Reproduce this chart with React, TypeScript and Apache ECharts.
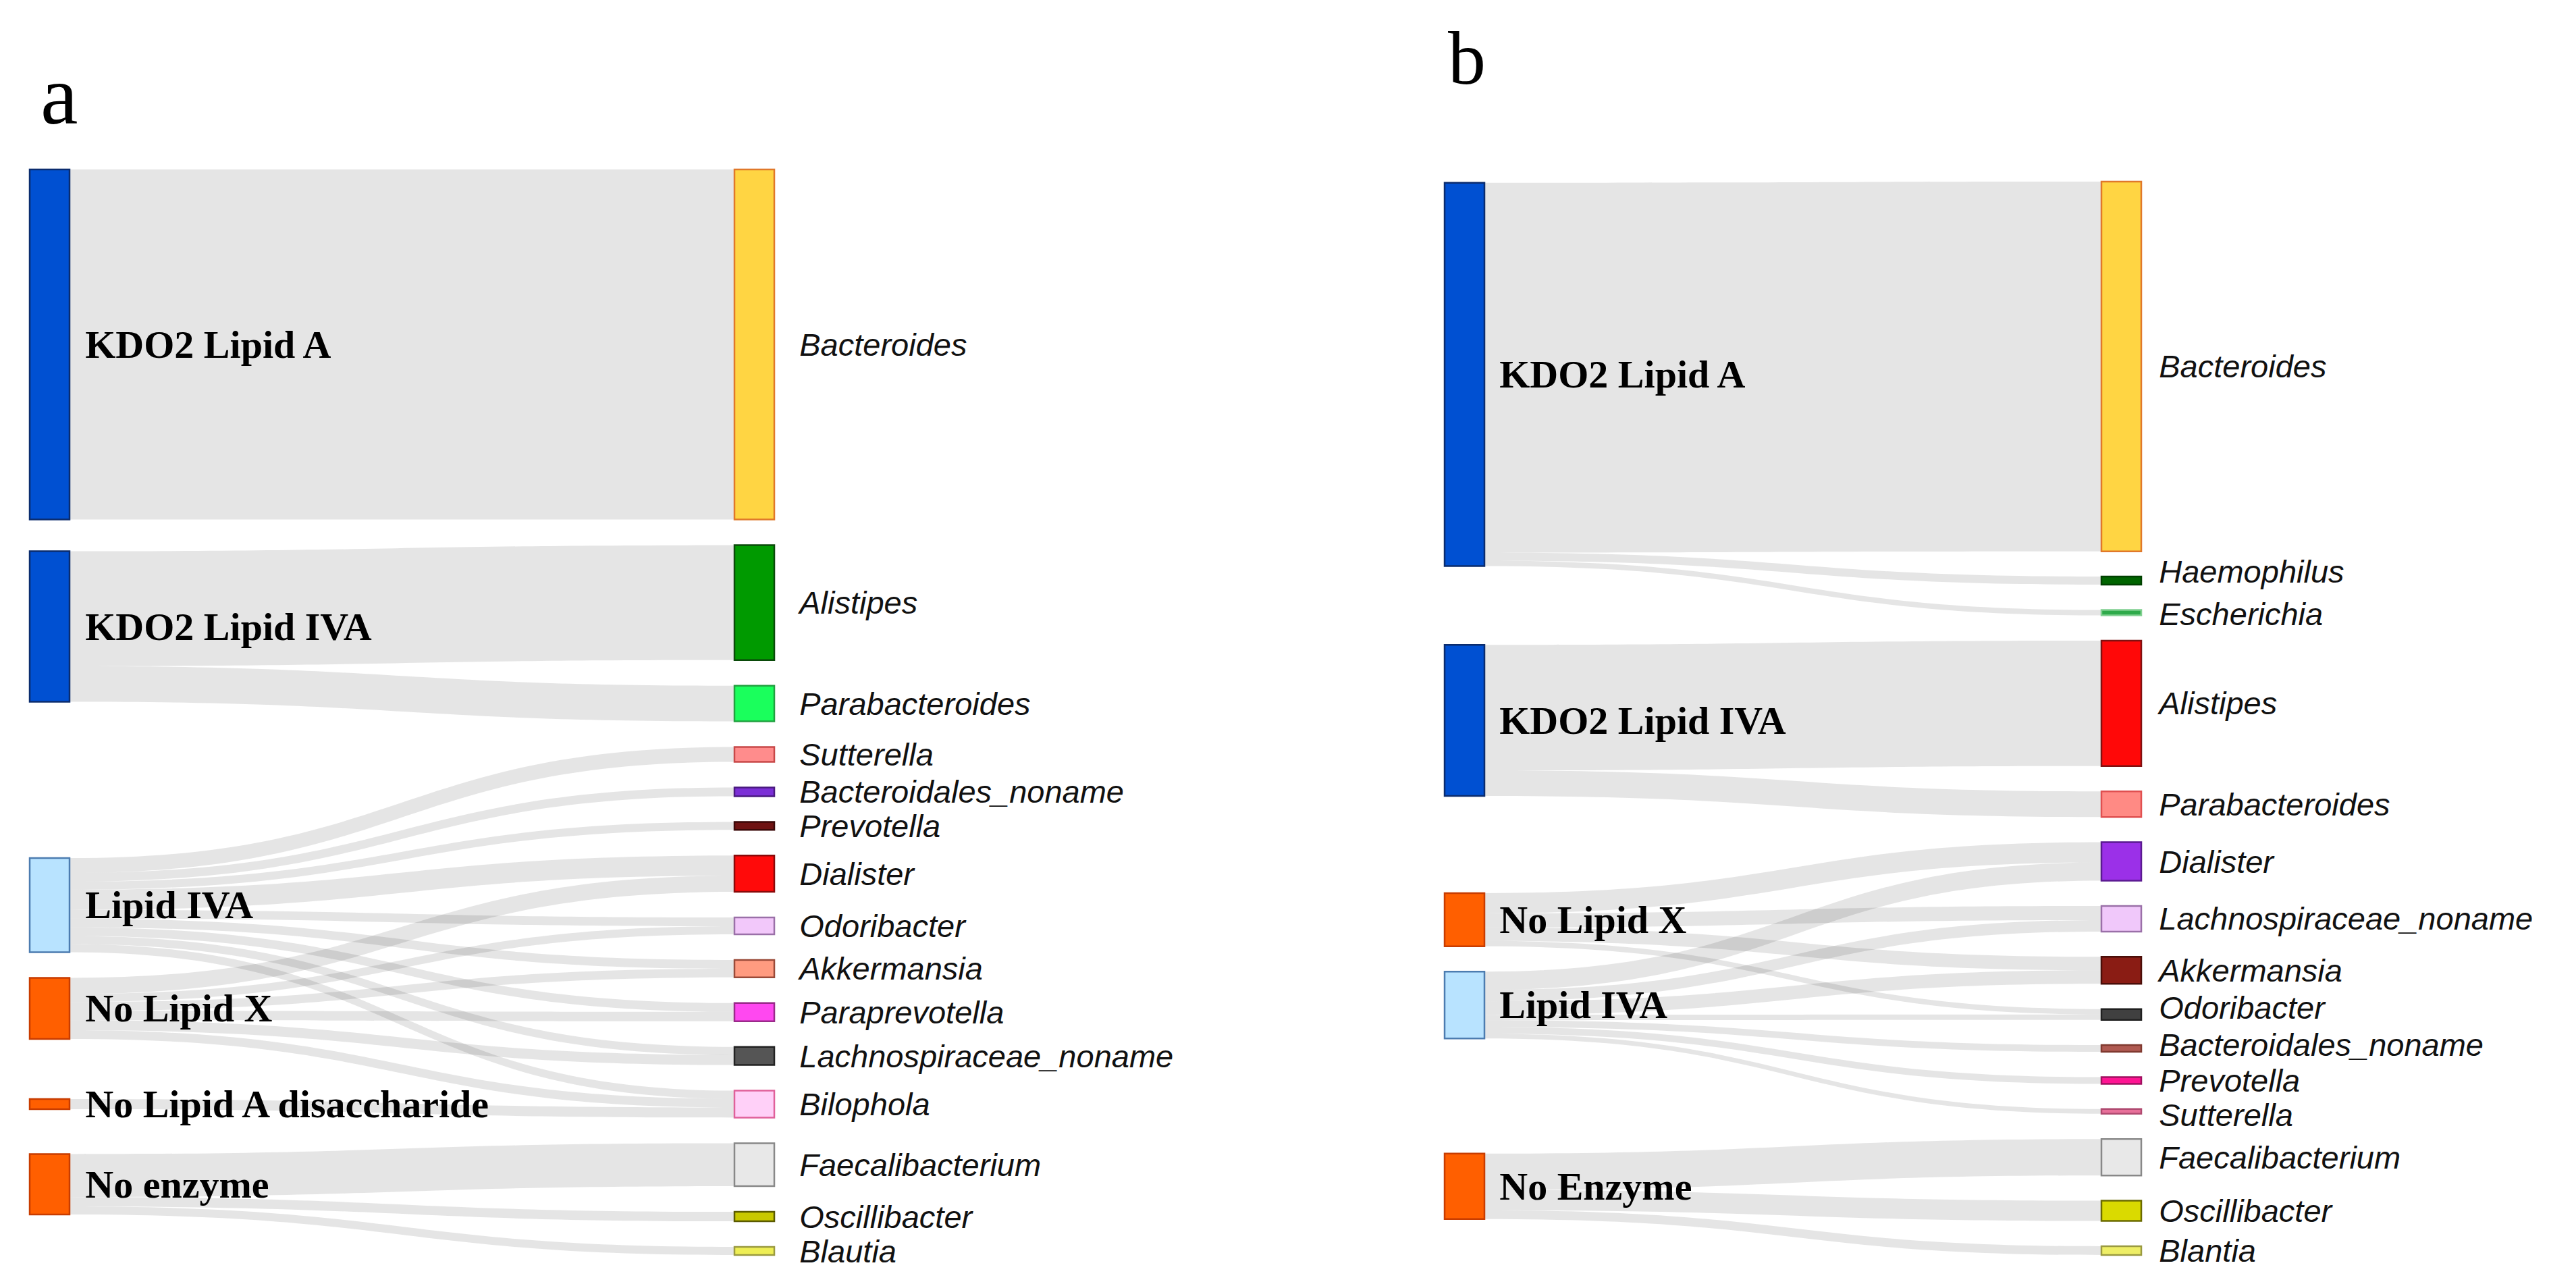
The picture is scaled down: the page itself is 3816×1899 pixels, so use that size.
import React, { useEffect, useRef } from 'react';
import * as echarts from 'echarts';

// ---------- Panel a data ----------
const leftNodesA = ['KDO2 Lipid A', 'KDO2 Lipid IVA', 'Lipid IVA', 'No Lipid X', 'No Lipid A disaccharide', 'No enzyme'];
const rightNodesA = [
  'Bacteroides', 'Alistipes', 'Parabacteroides', 'Sutterella', 'Bacteroidales_noname', 'Prevotella',
  'Dialister', 'Odoribacter', 'Akkermansia', 'Paraprevotella', 'Lachnospiraceae_noname', 'Bilophola',
  'Faecalibacterium', 'Oscillibacter', 'Blautia',
];
const sourcesA = [
  'KDO2 Lipid A', 'KDO2 Lipid IVA', 'KDO2 Lipid IVA',
  'Lipid IVA', 'Lipid IVA', 'Lipid IVA', 'Lipid IVA', 'Lipid IVA', 'Lipid IVA', 'Lipid IVA', 'Lipid IVA', 'Lipid IVA',
  'No Lipid X', 'No Lipid X', 'No Lipid X', 'No Lipid X', 'No Lipid X', 'No Lipid X',
  'No Lipid A disaccharide',
  'No enzyme', 'No enzyme', 'No enzyme',
];
const targetsA = [
  'Bacteroides', 'Alistipes', 'Parabacteroides',
  'Sutterella', 'Bacteroidales_noname', 'Prevotella', 'Dialister', 'Odoribacter', 'Akkermansia', 'Paraprevotella', 'Lachnospiraceae_noname', 'Bilophola',
  'Dialister', 'Odoribacter', 'Akkermansia', 'Paraprevotella', 'Lachnospiraceae_noname', 'Bilophola',
  'Bilophola',
  'Faecalibacterium', 'Oscillibacter', 'Blautia',
];
const valuesA = [
  521, 171, 53,
  22, 13, 12, 30, 13, 13, 13, 12, 12,
  24, 12, 13, 14, 15, 13,
  15,
  64, 14, 12,
];

// ---------- Panel b data ----------
const leftNodesB = ['KDO2 Lipid A', 'KDO2 Lipid IVA', 'No Lipid X', 'Lipid IVA', 'No Enzyme'];
const rightNodesB = [
  'Bacteroides', 'Haemophilus', 'Escherichia', 'Alistipes', 'Parabacteroides', 'Dialister',
  'Lachnospiraceae_noname', 'Akkermansia', 'Odoribacter', 'Bacteroidales_noname', 'Prevotella', 'Sutterella',
  'Faecalibacterium', 'Oscillibacter', 'Blantia',
];
const sourcesB = [
  'KDO2 Lipid A', 'KDO2 Lipid A', 'KDO2 Lipid A', 'KDO2 Lipid IVA', 'KDO2 Lipid IVA',
  'No Lipid X', 'No Lipid X', 'No Lipid X', 'No Lipid X',
  'Lipid IVA', 'Lipid IVA', 'Lipid IVA', 'Lipid IVA', 'Lipid IVA', 'Lipid IVA', 'Lipid IVA',
  'No Enzyme', 'No Enzyme', 'No Enzyme',
];
const targetsB = [
  'Bacteroides', 'Haemophilus', 'Escherichia', 'Alistipes', 'Parabacteroides',
  'Dialister', 'Lachnospiraceae_noname', 'Akkermansia', 'Odoribacter',
  'Dialister', 'Lachnospiraceae_noname', 'Akkermansia', 'Odoribacter', 'Bacteroidales_noname', 'Prevotella', 'Sutterella',
  'Faecalibacterium', 'Oscillibacter', 'Blantia',
];
const valuesB = [
  548, 12, 8, 186, 38,
  30, 21, 20, 8,
  27, 17, 20, 8, 10, 10, 7,
  54, 30, 13,
];

const panelLabels = ['a', 'b'];

// ---------- styles (fill, border) ----------
const BLUE: [string, string] = ['#0050d2', '#0b2c6e'];
const LIGHTBLUE: [string, string] = ['#b8e3ff', '#4c7cb0'];
const ORANGE: [string, string] = ['#ff5f00', '#c83c00'];
const colorsA: Record<string, [string, string]> = {
  'KDO2 Lipid A': BLUE, 'KDO2 Lipid IVA': BLUE, 'Lipid IVA': LIGHTBLUE,
  'No Lipid X': ORANGE, 'No Lipid A disaccharide': ORANGE, 'No enzyme': ORANGE,
  Bacteroides: ['#ffd543', '#e0782a'],
  Alistipes: ['#009a00', '#0a4a0a'],
  Parabacteroides: ['#1aff5c', '#22a040'],
  Sutterella: ['#ff8c8c', '#c84848'],
  Bacteroidales_noname: ['#7b2fd6', '#4a1a80'],
  Prevotella: ['#6e1212', '#3a0808'],
  Dialister: ['#ff0a0a', '#8a0a0a'],
  Odoribacter: ['#f2c8fa', '#9a70a8'],
  Akkermansia: ['#ff9b80', '#9a4a38'],
  Paraprevotella: ['#ff48f0', '#9a2a8a'],
  Lachnospiraceae_noname: ['#555555', '#222222'],
  Bilophola: ['#ffd0f8', '#e0609a'],
  Faecalibacterium: ['#e8e8e8', '#888888'],
  Oscillibacter: ['#c8c800', '#5a5a00'],
  Blautia: ['#eeee55', '#9a9a40'],
};
const colorsB: Record<string, [string, string]> = {
  'KDO2 Lipid A': BLUE, 'KDO2 Lipid IVA': BLUE, 'Lipid IVA': LIGHTBLUE,
  'No Lipid X': ORANGE, 'No Enzyme': ORANGE,
  Bacteroides: ['#ffd543', '#e0782a'],
  Haemophilus: ['#006400', '#004000'],
  Escherichia: ['#2eaa4a', '#80d090'],
  Alistipes: ['#ff0808', '#801010'],
  Parabacteroides: ['#ff8a84', '#e05050'],
  Dialister: ['#9b30e8', '#5a1a90'],
  Lachnospiraceae_noname: ['#f0c8fa', '#9a70a8'],
  Akkermansia: ['#8a1c14', '#4a0e08'],
  Odoribacter: ['#404040', '#202020'],
  Bacteroidales_noname: ['#b05a52', '#803a30'],
  Prevotella: ['#ff1493', '#a01060'],
  Sutterella: ['#e8709a', '#b04a70'],
  Faecalibacterium: ['#e8e8e8', '#888888'],
  Oscillibacter: ['#dada00', '#6a6a00'],
  Blantia: ['#eeee66', '#9a9a40'],
};
// small vertical nudges of crowded labels (style only)
const labelNudgeB: Record<string, number> = {
  Haemophilus: -14, Escherichia: 2, Odoribacter: -10, Bacteroidales_noname: -6, Sutterella: 5,
};

function buildNodes(names: string[], colors: Record<string, [string, string]>, nudge: Record<string, number> = {}) {
  return names.map((name) => ({
    name,
    itemStyle: { color: colors[name][0], borderColor: colors[name][1] },
    ...(nudge[name] ? { label: { offset: [0, nudge[name]] } } : {}),
  }));
}
function buildLinks(src: string[], tgt: string[], val: number[]) {
  return src.map((s, i) => ({ source: s, target: tgt[i], value: val[i] }));
}

function sankeySeries(
  nodes: any[], links: any[], box: { left: number; top: number; right: number; bottom: number },
  gap: number, leftDist: number, rightDist: number,
) {
  return {
    type: 'sankey',
    ...box,
    nodeWidth: 59,
    nodeGap: gap,
    nodeAlign: 'justify',
    layoutIterations: 32,
    draggable: false,
    emphasis: { disabled: true },
    itemStyle: { borderWidth: 2.5 },
    lineStyle: { color: '#000000', opacity: 0.1, curveness: 0.5 },
    label: { position: 'right' },
    levels: [
      {
        depth: 0,
        label: {
          position: 'right', distance: leftDist, color: '#000',
          fontFamily: '"Liberation Serif", "Times New Roman", serif', fontWeight: 'bold', fontSize: 58,
        },
      },
      {
        depth: 1,
        label: {
          position: 'right', distance: rightDist, color: '#111',
          fontFamily: '"Liberation Sans", Arial, sans-serif', fontStyle: 'italic', fontSize: 47,
        },
      },
    ],
    data: nodes,
    links,
  };
}

export default function App() {
  const ref = useRef<HTMLDivElement>(null);
  useEffect(() => {
    if (!ref.current) return;
    const chart = echarts.init(ref.current, undefined, { renderer: 'svg' });
    chart.setOption({
      animation: false,
      backgroundColor: '#ffffff',
      graphic: [
        {
          type: 'text', x: 60, y: 78,
          style: { text: panelLabels[0], fontSize: 125, fontFamily: '"Liberation Serif", serif', fill: '#000', verticalAlign: 'top' },
        },
        {
          type: 'text', x: 2145, y: 30,
          style: { text: panelLabels[1], fontSize: 112, fontFamily: '"Liberation Serif", serif', fill: '#000', verticalAlign: 'top' },
        },
      ],
      series: [
        sankeySeries(
          buildNodes([...leftNodesA, ...rightNodesA], colorsA),
          buildLinks(sourcesA, targetsA, valuesA),
          { left: 44, top: 251, right: 2669, bottom: 40 }, 38, 22, 36,
        ),
        sankeySeries(
          buildNodes([...leftNodesB, ...rightNodesB], colorsB, labelNudgeB),
          buildLinks(sourcesB, targetsB, valuesB),
          { left: 2140, top: 269, right: 644, bottom: 40 }, 37.4, 21, 25,
        ),
      ],
    });
    return () => chart.dispose();
  }, []);
  return <div ref={ref} style={{ position: 'fixed', left: 0, top: 0, width: 3816, height: 1899 }} />;
}
